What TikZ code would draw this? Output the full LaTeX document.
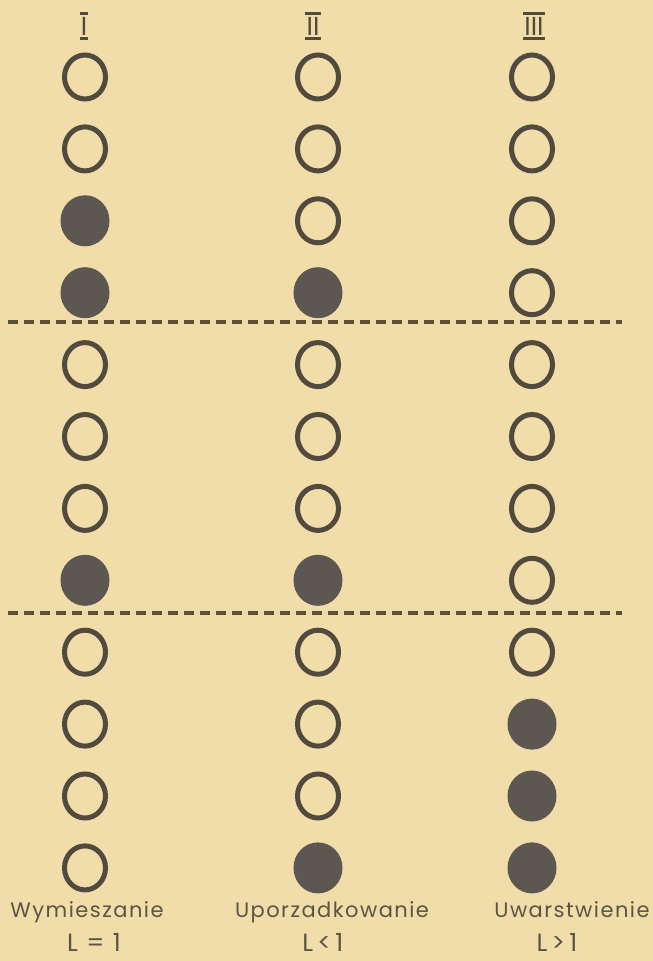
\documentclass[tikz,border=0pt]{standalone}
\usepackage{fontspec}
\setmainfont{Poppins}
\newfontfamily\labfont[LetterSpace=7]{Poppins}
\usetikzlibrary{shapes.geometric}
\definecolor{paper}{RGB}{240,221,170}
\definecolor{ink}{RGB}{82,74,60}
\definecolor{dotc}{RGB}{93,87,82}
\definecolor{sepc}{RGB}{94,80,54}
\definecolor{txt}{RGB}{92,85,68}
\tikzset{
  st0/.style={ellipse, draw=ink, line width=5pt, minimum width=41pt, minimum height=44pt, inner sep=0pt},
  st1/.style={ellipse, draw=dotc, fill=dotc, line width=1pt, minimum width=48pt, minimum height=50pt, inner sep=0pt},
  sepline/.style={draw=sepc, line width=3.5pt, dash pattern=on 10pt off 6pt},
  lab/.style={text=txt, font=\labfont\fontsize{21}{21}\selectfont, inner sep=0pt, anchor=base},
  llab/.style={text=txt, font=\labfont\fontsize{25}{25}\selectfont, inner sep=0pt, anchor=base},
  hdr/.style={text=ink, font=\fontsize{26}{26}\selectfont, inner sep=0pt, text height=18pt, text depth=0pt},
  bar/.style={draw=ink, line width=3pt}
}
\begin{document}
\begin{tikzpicture}[x=1pt,y=-1pt]
\fill[paper] (0,0) rectangle (653,961);
\useasboundingbox (0,0) rectangle (653,961);
% headers
\node[hdr] (h1) at (84,26) {I};
\node[hdr] (h2) at (313,26) {II};
\node[hdr] (h3) at (534,26) {III};
\foreach \h in {h1,h2,h3}{
  \draw[bar] ([xshift=-1pt,yshift=3pt]\h.north west) -- ([xshift=1pt,yshift=3pt]\h.north east);
  \draw[bar] ([xshift=-1pt,yshift=-3pt]\h.south west) -- ([xshift=1pt,yshift=-3pt]\h.south east);
}
% circles
\foreach \col/\x/\pat in {1/85/{0,0,1,1,0,0,0,1,0,0,0,0},2/318/{0,0,0,1,0,0,0,1,0,0,0,1},3/532/{0,0,0,0,0,0,0,0,0,1,1,1}}{
  \foreach \f [count=\r] in \pat {
    \node[st\f] (c\col r\r) at (\x,{77+71.9*(\r-1)}) {};
  }
}
% separators
\coordinate (s1l) at (8,322); \coordinate (s1r) at (622,322);
\coordinate (s2l) at (8,613); \coordinate (s2r) at (622,613);
\draw[sepline] (s1l) -- (s1r);
\draw[sepline] (s2l) -- (s2r);
% labels
\node[lab] (t1) at (87,917) {Wymieszanie};
\node[lab] (t2) at (332,917) {Uporzadkowanie};
\node[lab] (t3) at (572,917) {Uwarstwienie};
\node[llab] (l1) at (94,951) {L = 1};
\node[llab] (l2) at (323,951) {L\,<\,1};
\node[llab] (l3) at (557,951) {L\,>\,1};
\end{tikzpicture}
\end{document}
